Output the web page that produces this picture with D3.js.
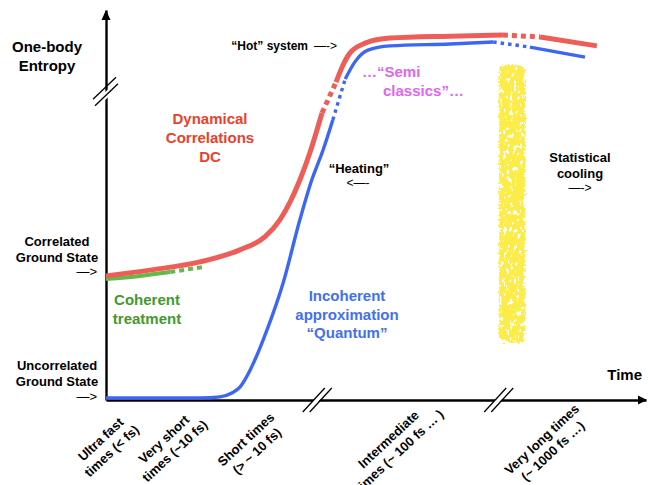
<!DOCTYPE html>
<html>
<head>
<meta charset="utf-8">
<script src="https://cdn.jsdelivr.net/npm/d3@7.9.0/dist/d3.min.js"></script>
<style>
  body { margin: 0; background: #fff; }
  svg { display: block; font-family: "Liberation Sans", Arial, Helvetica, sans-serif; }
</style>
</head>
<body>
<svg id="chart" width="648" height="485"></svg>
<script>
// time (arbitrary units) and one-body entropy (arbitrary units)
const redT  = [0, 0.81, 1.74, 2.48, 2.94, 3.22, 3.41, 3.59, 3.78, 4.0, 4.26, 4.39, 4.52, 4.80, 5.26, 6.37, 7.35, 8.04, 9.09];
const redS  = [3.18, 3.33, 3.54, 3.85, 4.18, 4.62, 5.08, 5.64, 6.36, 7.36, 8.15, 8.59, 8.90, 9.15, 9.28, 9.33, 9.36, 9.31, 9.08];
const redDashed = [[4.0, 4.26], [7.35, 8.04]];

const blueT = [0, 1.74, 2.11, 2.33, 2.48, 2.67, 2.85, 2.98, 3.28, 3.59, 3.81, 4.02, 4.20, 4.43, 4.61, 4.85, 5.26, 6.37, 7.17, 7.85, 8.87];
const blueS = [0.05, 0.05, 0.08, 0.18, 0.33, 0.77, 1.33, 1.79, 3.0, 4.62, 5.64, 6.41, 7.18, 8.23, 8.67, 8.97, 9.08, 9.13, 9.18, 9.05, 8.79];
const blueDashed = [[4.20, 4.43], [7.17, 7.85]];

const greenT = [0, 0.63, 1.19, 1.80];
const greenS = [3.10, 3.18, 3.28, 3.41];
const greenDashed = [[1.19, 1.80]];

// "statistical cooling" crayon band
const bandT = [7.28, 7.76];
const bandS = [1.46, 8.59];

// axis breaks
const yBreakAt = 7.8;
const xBreaksAt = [3.94, 7.30];

const timeLabels = [
  ["Ultra fast", "times  (< fs)"],
  ["Very short", "times (~10 fs)"],
  ["Short  times", "(> ~ 10 fs)"],
  ["Intermediate", "times (~ 100 fs … )"],
  ["Very long times", "(~ 1000 fs …)"]
];
const timeLabelAt = [0, 1.17, 2.69, 5.33, 8.17];

const svg = d3.select("#chart");

const x = d3.scaleLinear().domain([0, 10]).range([106, 646]);
const y = d3.scaleLinear().domain([0, 10]).range([400, 10]);

const defs = svg.append("defs");
const f = defs.append("filter").attr("id", "crayon")
  .attr("x", "-40%").attr("y", "-5%").attr("width", "180%").attr("height", "110%");
f.append("feTurbulence").attr("type", "fractalNoise").attr("baseFrequency", 0.6)
  .attr("numOctaves", 2).attr("seed", 4).attr("result", "noise");
f.append("feDisplacementMap").attr("in", "SourceGraphic").attr("in2", "noise")
  .attr("scale", 6).attr("xChannelSelector", "R").attr("yChannelSelector", "G").attr("result", "disp");
f.append("feTurbulence").attr("type", "fractalNoise").attr("baseFrequency", "0.3 0.18")
  .attr("numOctaves", 2).attr("seed", 11).attr("result", "n2");
f.append("feColorMatrix").attr("in", "n2").attr("type", "matrix")
  .attr("values", "0 0 0 0 0  0 0 0 0 0  0 0 0 0 0  16 0 0 0 -5.4").attr("result", "mask");
f.append("feComposite").attr("in", "disp").attr("in2", "mask").attr("operator", "in");

// yellow band
svg.append("rect")
  .attr("x", x(bandT[0]))
  .attr("y", y(bandS[1]))
  .attr("width", x(bandT[1]) - x(bandT[0]))
  .attr("height", y(bandS[0]) - y(bandS[1]))
  .attr("rx", 6)
  .attr("fill", "#fcec4a")
  .attr("filter", "url(#crayon)");

// axes (no ticks, just the domain lines)
svg.append("g").attr("transform", `translate(0,${y(0)})`)
  .call(d3.axisBottom(x).tickValues([]).tickSizeOuter(0));
svg.append("g").attr("transform", `translate(${x(0)},0)`)
  .call(d3.axisLeft(y).tickValues([]).tickSizeOuter(0));
svg.selectAll(".domain").attr("stroke", "#000").attr("stroke-width", 2.4);

// arrow heads
svg.append("path")
  .attr("d", `M${x(0)},${y(10)} l-4.5,10 l9,0 Z`)
  .attr("fill", "#000");
svg.append("path")
  .attr("d", `M${x(10) + 1},${y(0)} l-9,-4.5 l0,9 Z`)
  .attr("fill", "#000");

// breaks
const by = y(yBreakAt), bx = x(0);
svg.append("path")
  .attr("d", `M${bx - 12},${by + 7} L${bx + 10},${by - 14} L${bx + 12},${by - 8} L${bx - 10},${by + 13} Z`)
  .attr("fill", "#fff");
[[-1, 3.5], [1, 10]].forEach(([dx, dy]) => {
  svg.append("line")
    .attr("x1", bx - 12 + dx).attr("y1", by + dy)
    .attr("x2", bx + 11 + dx).attr("y2", by + dy - 22)
    .attr("stroke", "#000").attr("stroke-width", 1.3);
});
xBreaksAt.forEach(t => {
  const cx = x(t), cy = y(0);
  svg.append("path")
    .attr("d", `M${cx - 16},${cy + 12} L${cx + 6},${cy - 12} L${cx + 12},${cy - 12} L${cx - 10},${cy + 12} Z`)
    .attr("fill", "#fff");
  [-16, -9].forEach(o => {
    svg.append("line")
      .attr("x1", cx + o).attr("y1", cy + 12)
      .attr("x2", cx + o + 22).attr("y2", cy - 12)
      .attr("stroke", "#000").attr("stroke-width", 1.3);
  });
});

// curves, split into solid and dashed stretches
function pieces(ts, ss, gaps) {
  const pts = ts.map((t, i) => [t, ss[i]]);
  const out = [];
  for (let i = 0; i < pts.length - 1; i++) {
    const mid = (pts[i][0] + pts[i + 1][0]) / 2;
    const dashed = gaps.some(([a, b]) => mid > a && mid < b);
    const last = out[out.length - 1];
    if (last && last.dashed === dashed) last.pts.push(pts[i + 1]);
    else out.push({ dashed, pts: [pts[i], pts[i + 1]] });
  }
  return out;
}

const line = d3.line()
  .x(d => x(d[0]))
  .y(d => y(d[1]))
  .curve(d3.curveMonotoneX);

function drawCurve(ts, ss, gaps, color, width, dash) {
  pieces(ts, ss, gaps).forEach(p => {
    svg.append("path")
      .attr("d", line(p.pts))
      .attr("fill", "none")
      .attr("stroke", color)
      .attr("stroke-width", width)
      .attr("stroke-linejoin", "round")
      .attr("stroke-dasharray", p.dashed ? dash : null);
  });
}

drawCurve(greenT, greenS, greenDashed, "#63b94a", 4, "5 4");
drawCurve(redT, redS, redDashed, "#ee5e59", 5, "5 4");
drawCurve(blueT, blueS, blueDashed, "#3c67f4", 3.4, "3.5 4");

// texts
function label(lines, px, py, opts) {
  const o = Object.assign({ size: 13, lh: 16, anchor: "middle", color: "#000", weight: "bold" }, opts);
  lines.forEach((s, i) => {
    svg.append("text")
      .attr("x", px).attr("y", py + i * o.lh)
      .attr("text-anchor", o.anchor)
      .attr("font-size", o.size)
      .attr("font-weight", o.weight)
      .attr("fill", o.color)
      .text(s);
  });
}

label(["One-body", "Entropy"], 47, 52, { size: 15, lh: 19 });
label(["Time"], 642, 380, { size: 15, anchor: "end" });

label(["Correlated", "Ground State"], 57, 246, { size: 13, lh: 15.5 });
label(["—>"], 97, 276, { size: 13, anchor: "end", weight: "normal" });
label(["Uncorrelated", "Ground State"], 57, 370, { size: 13, lh: 16 });
label(["—>"], 97, 401, { size: 13, anchor: "end", weight: "normal" });

label(["Dynamical", "Correlations", "DC"], 210, 124, { size: 15, lh: 19, color: "#e8422c" });
label(["Coherent", "treatment"], 147, 305, { size: 15, lh: 19, color: "#43992f" });
label(["Incoherent", "approximation", "“Quantum”"], 347, 301, { size: 15, lh: 18.5, color: "#4170f0" });

label(["“Hot” system"], 308, 50, { size: 12, anchor: "end" });
label(["—->"], 337, 50, { size: 12, anchor: "end", weight: "normal" });

label(["…“Semi"], 362, 77, { size: 15, anchor: "start", color: "#e065f2" });
label(["classics”…"], 383, 96, { size: 15, anchor: "start", color: "#e065f2" });

label(["“Heating”"], 359, 173, { size: 13 });
label(["<—-"], 358, 187, { size: 12, weight: "normal" });

label(["Statistical", "cooling"], 580, 162, { size: 13, lh: 16 });
label(["—->"], 580, 192, { size: 12, weight: "normal" });

// rotated time-scale labels
timeLabels.forEach((ls, i) => {
  const g = svg.append("g")
    .attr("transform", `translate(${x(timeLabelAt[i])},445) rotate(-43)`);
  ls.forEach((s, j) => {
    g.append("text")
      .attr("x", 0).attr("y", -8 + j * 16 + 4.7)
      .attr("text-anchor", "middle")
      .attr("font-size", 13)
      .attr("font-weight", "bold")
      .text(s);
  });
});
</script>
</body>
</html>
